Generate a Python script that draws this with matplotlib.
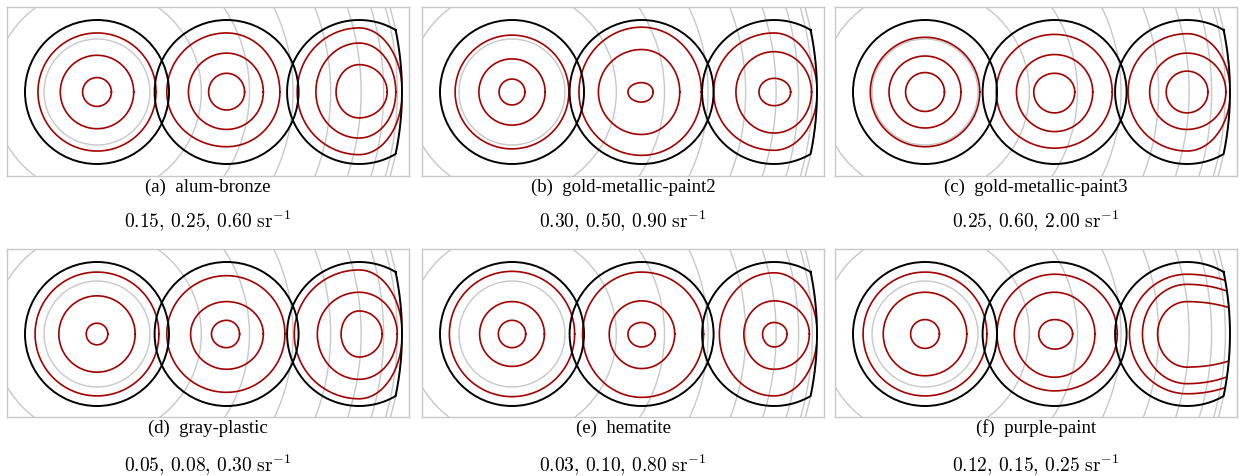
import numpy as np
import matplotlib.pyplot as plt
from matplotlib.patches import Circle, PathPatch
from matplotlib.path import Path

plt.rcParams['mathtext.fontset'] = 'cm'
plt.rcParams['font.family'] = ['Liberation Serif', 'DejaVu Serif']

# materials and contour levels (sr^-1)
tags = ["a", "b", "c", "d", "e", "f"]
names = ["alum-bronze", "gold-metallic-paint2", "gold-metallic-paint3",
         "gray-plastic", "hematite", "purple-paint"]
levels = [[0.15, 0.25, 0.60], [0.30, 0.50, 0.90], [0.25, 0.60, 2.00],
          [0.05, 0.08, 0.30], [0.03, 0.10, 0.80], [0.12, 0.15, 0.25]]

# contour sizes, in units of the disk radius (inner -> outer)
# disk 1: radius of each circle
disk1_radii = [[0.20, 0.51, 0.82], [0.18, 0.46, 0.79], [0.27, 0.50, 0.76],
               [0.15, 0.53, 0.86], [0.19, 0.45, 0.87], [0.20, 0.58, 0.86]]
# disks 2 and 3: extent to the left, right, top, bottom
disk2_ext = [
    [[0.25, 0.25, 0.26, 0.25], [0.53, 0.51, 0.54, 0.52], [0.83, 0.74, 0.82, 0.76]],
    [[0.19, 0.16, 0.13, 0.14], [0.60, 0.53, 0.59, 0.59], [0.87, 0.83, 0.90, 0.88]],
    [[0.29, 0.28, 0.26, 0.29], [0.53, 0.53, 0.52, 0.55], [0.81, 0.80, 0.80, 0.78]],
    [[0.21, 0.18, 0.19, 0.19], [0.50, 0.51, 0.45, 0.49], [0.83, 0.81, 0.81, 0.81]],
    [[0.19, 0.19, 0.16, 0.18], [0.45, 0.46, 0.46, 0.48], [0.82, 0.86, 0.86, 0.88]],
    [[0.22, 0.25, 0.20, 0.21], [0.56, 0.56, 0.58, 0.60], [0.80, 0.87, 0.83, 0.79]],
]
disk3_ext = [
    [[0.32, 0.39, 0.38, 0.36], [0.60, 0.51, 0.68, 0.64], [0.86, 0.60, 0.89, 0.87]],
    [[0.21, 0.23, 0.19, 0.19], [0.53, 0.52, 0.56, 0.57], [0.84, 0.60, 0.82, 0.81]],
    [[0.29, 0.29, 0.29, 0.29], [0.52, 0.54, 0.54, 0.52], [0.82, 0.60, 0.81, 0.82]],
    [[0.25, 0.32, 0.32, 0.32], [0.58, 0.53, 0.58, 0.63], [0.90, 0.60, 0.89, 0.90]],
    [[0.16, 0.18, 0.16, 0.18], [0.42, 0.49, 0.46, 0.49], [0.76, 0.60, 0.85, 0.86]],
    [[0.41, 1.00, 0.45, 0.46], [0.62, 1.10, 0.69, 0.69], [0.80, 1.20, 0.83, 0.83]],
]

centers = [0.0, 1.80, 3.64]   # disk centres
R_h = 4.236                   # horizon radius
arc_deg = np.arange(10, 91, 10)

GREY = '#c8c8c8'
RED = '#a30000'

W, H = 1247, 476
fig = plt.figure(figsize=(W / 100, H / 100), dpi=100)
lefts = [7, 422, 835]
tops = [7, 249]
heights = [169, 168]
cap1 = [187, 428]
cap2 = [221, 465]


def blob(cx, ext, n=240):
    l, r, t, b = ext
    th = np.linspace(0, 2 * np.pi, n)
    c, s = np.cos(th), np.sin(th)
    x = cx + np.where(c > 0, r, l) * c
    y = np.where(s > 0, t, b) * s
    return x, y


def last_disk(c, R):
    xi = (c * c + R * R - 1) / (2 * c)
    yi = np.sqrt(R * R - xi * xi)
    a0 = np.arctan2(yi, xi - c)
    t = np.linspace(a0, 2 * np.pi - a0, 300)
    b0 = np.arctan2(yi, xi)
    s = np.linspace(-b0, b0, 60)
    x = np.concatenate([c + np.cos(t), R * np.cos(s)])
    y = np.concatenate([np.sin(t), R * np.sin(s)])
    return x, y


for i in range(6):
    row, col = divmod(i, 3)
    hpx = heights[row]
    ax = fig.add_axes([lefts[col] / W, 1 - (tops[row] + hpx) / H, 402 / W, hpx / H])
    ax.set_xlim(-1.25, -1.25 + 402 / 72)
    ax.set_ylim(-(hpx - 85) / 72, 85 / 72)
    ax.set_xticks([])
    ax.set_yticks([])
    for sp in ax.spines.values():
        sp.set_color(GREY)
        sp.set_linewidth(1.0)

    for d in arc_deg:
        ax.add_patch(Circle((0, 0), R_h * np.sin(np.radians(d)), fill=False,
                            ec=GREY, lw=1.0, zorder=1))

    # disk 1 and 2
    for k in range(2):
        ax.add_patch(Circle((centers[k], 0), 1.0, fill=False, ec='k', lw=1.4, zorder=3))
    for r in disk1_radii[i]:
        x, y = blob(centers[0], [r, r, r, r])
        ax.plot(x, y, color=RED, lw=1.2, zorder=2)
    for ext in disk2_ext[i]:
        x, y = blob(centers[1], ext)
        ax.plot(x, y, color=RED, lw=1.2, zorder=2)

    # disk 3, cut by the horizon
    ox, oy = last_disk(centers[2], R_h)
    ax.plot(ox, oy, color='k', lw=1.4, zorder=3)
    clip = PathPatch(Path(np.column_stack([ox, oy])), transform=ax.transData)
    for ext in disk3_ext[i]:
        x, y = blob(centers[2], ext)
        ln, = ax.plot(x, y, color=RED, lw=1.2, zorder=2)
        ln.set_clip_path(clip)

    xc = (lefts[col] + 201) / W
    fig.text(xc, 1 - cap1[row] / H, "(%s)  %s" % (tags[i], names[i]),
             ha='center', va='center', fontsize=13.5)
    lv = levels[i]
    fig.text(xc, 1 - cap2[row] / H,
             r"$%.2f,\,%.2f,\,%.2f\ \mathrm{sr}^{-1}$" % (lv[0], lv[1], lv[2]),
             ha='center', va='center', fontsize=14)

fig.savefig("out.png", dpi=100)
